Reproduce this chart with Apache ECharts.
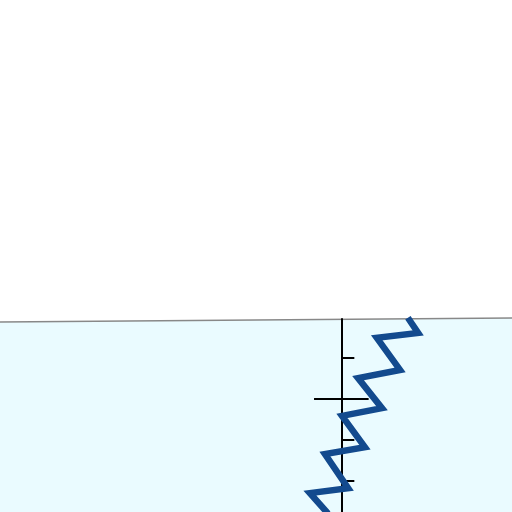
<!DOCTYPE html>
<html>
<head>
<meta charset="utf-8">
<script src="https://cdn.jsdelivr.net/npm/echarts@6/dist/echarts.min.js"></script>
<style>
  html, body { margin: 0; padding: 0; background: #fff; }
  #chart { width: 512px; height: 512px; }
</style>
</head>
<body>
<div id="chart"></div>
<script>
// zigzag path, x across / y along the vertical axis
const pathX = [1.95, 2.25, 1.04, 1.72, 0.49, 1.19, 0.02, 0.69, -0.48, 0.20, -0.92, -0.42, -0.20];
const pathY = [4.98, 4.61, 4.49, 3.71, 3.51, 2.78, 2.59, 1.83, 1.66, 0.83, 0.71, 0.24, -0.10];
// tick positions on the vertical axis
const tickValues = [1, 2, 3, 4];
// the longer cross tick on the axis
const crossX = [-0.8, 0.8];
const crossY = [3, 3];

const chart = echarts.init(document.getElementById('chart'));

chart.setOption({
  backgroundColor: '#fff',
  animation: false,
  graphic: [
    {
      type: 'polygon',
      z: -10,
      shape: { points: [[0, 322], [512, 318], [512, 512], [0, 512]] },
      style: { fill: '#eafbff' }
    },
    {
      type: 'polyline',
      z: -9,
      shape: { points: [[0, 322], [512, 318]] },
      style: { stroke: '#888', lineWidth: 1.5, fill: null }
    }
  ],
  grid: { left: 0, right: 0, top: 319, bottom: 0 },
  xAxis: {
    type: 'value',
    min: -10,
    max: 5,
    axisLine: { show: false },
    axisTick: { show: false },
    axisLabel: { show: false },
    splitLine: { show: false }
  },
  yAxis: {
    type: 'value',
    min: 0.25,
    max: 4.95,
    axisLine: { show: true, onZero: true, lineStyle: { color: '#000', width: 2 } },
    axisTick: {
      show: true, inside: true, length: 13,
      customValues: tickValues,
      lineStyle: { color: '#000', width: 2 }
    },
    axisLabel: { show: false },
    splitLine: { show: false }
  },
  series: [
    {
      name: 'cross',
      type: 'line',
      data: crossX.map((x, i) => [x, crossY[i]]),
      symbol: 'none',
      lineStyle: { color: '#000', width: 2 },
      z: 2
    },
    {
      name: 'path',
      type: 'line',
      data: pathX.map((x, i) => [x, pathY[i]]),
      symbol: 'none',
      clip: true,
      lineStyle: { color: '#134a8e', width: 6.5, join: 'miter' },
      z: 3
    }
  ]
});
</script>
</body>
</html>
